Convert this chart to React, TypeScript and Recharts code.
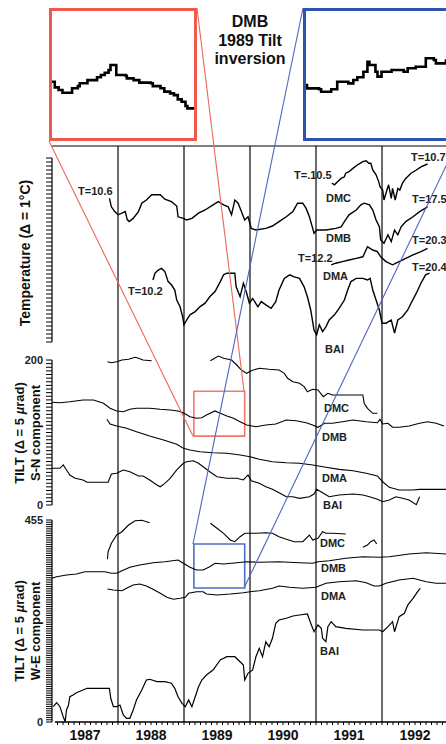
import React from 'react';
import { LineChart, Line, XAxis, YAxis, ReferenceLine, ReferenceArea } from 'recharts';

// ---------- axes / labels ----------
const YEARS = [1987, 1988, 1989, 1990, 1991, 1992];
const YEAR_BOUNDARIES = [1988, 1989, 1990, 1991, 1992];
const X_DOMAIN = [1987, 1993];
const TEMP_DOMAIN = [0, 46];
const SN_DOMAIN = [0, 206];
const WE_DOMAIN = [0, 455];
const SN_LABELED = [0, 200];
const WE_LABELED = [0, 455];

// ---------- temperature (°C, relative offset units) ----------
const tempDMB = [
  [1987.87, 35.9], [1987.9, 33.8], [1987.95, 32.6], [1988.0, 31.8], [1988.06, 32.2], [1988.11, 32.6], [1988.14, 30.6], [1988.17, 30.1],
  [1988.23, 30.9], [1988.31, 32.6], [1988.36, 34.7], [1988.43, 35.5], [1988.51, 36.8], [1988.64, 36.8], [1988.71, 35.7],
  [1988.81, 35.1], [1988.89, 34.0], [1988.91, 31.3], [1988.99, 30.9], [1989.04, 30.5], [1989.12, 30.9], [1989.22, 32.2],
  [1989.32, 33.0], [1989.44, 34.3], [1989.52, 35.1], [1989.6, 34.3], [1989.67, 33.8], [1989.72, 31.8], [1989.77, 35.5],
  [1989.82, 34.7], [1989.87, 32.6], [1989.92, 30.5], [1989.97, 31.3], [1990.02, 28.4], [1990.09, 28.0], [1990.24, 28.4],
  [1990.34, 29.0], [1990.44, 30.1], [1990.55, 31.3], [1990.65, 32.6], [1990.72, 34.7], [1990.8, 34.7], [1990.85, 33.4],
  [1990.9, 31.3], [1990.95, 28.4], [1990.97, 27.2], [1991.01, 28.0], [1991.15, 28.0], [1991.3, 28.4], [1991.38, 28.8],
  [1991.43, 30.1], [1991.5, 31.8], [1991.61, 33.0], [1991.68, 34.3], [1991.73, 34.7], [1991.81, 34.3], [1991.86, 33.0],
  [1991.91, 30.5], [1991.96, 28.8], [1991.98, 25.5], [1992.03, 24.7], [1992.09, 26.8], [1992.14, 25.1], [1992.19, 28.0],
  [1992.24, 26.8], [1992.29, 28.8], [1992.36, 30.1], [1992.47, 31.3], [1992.57, 32.6], [1992.69, 33.8],
];
const tempDMC = [
  [1991.24, 39.7], [1991.28, 39.3], [1991.33, 40.1], [1991.38, 40.9], [1991.43, 41.3], [1991.45, 42.2], [1991.5, 42.6],
  [1991.56, 43.4], [1991.63, 44.3], [1991.71, 45.1], [1991.76, 45.3], [1991.8, 44.7], [1991.83, 44.7], [1991.86, 43.0],
  [1991.91, 41.8], [1991.95, 40.1], [1991.97, 38.8], [1992.01, 38.0], [1992.03, 35.5], [1992.06, 37.2], [1992.1, 39.3],
  [1992.14, 35.9], [1992.16, 38.4], [1992.2, 35.5], [1992.24, 38.4], [1992.27, 38.0], [1992.31, 39.7], [1992.36, 40.9],
  [1992.44, 42.2], [1992.52, 43.0], [1992.59, 43.8], [1992.69, 44.5],
];
const tempDMA = [
  [1991.23, 19.3], [1991.3, 19.7], [1991.4, 20.1], [1991.5, 20.5], [1991.61, 20.9], [1991.71, 21.3], [1991.78, 23.8],
  [1991.82, 23.4], [1991.86, 23.0], [1991.93, 22.6], [1991.98, 21.3], [1992.06, 20.1], [1992.16, 19.3], [1992.26, 20.1],
  [1992.36, 20.9], [1992.47, 21.8], [1992.59, 22.6], [1992.69, 23.4],
];
const tempBAI = [
  [1988.53, 15.5], [1988.56, 17.2], [1988.61, 18.0], [1988.66, 18.4], [1988.71, 17.6], [1988.76, 15.1], [1988.81, 14.3],
  [1988.86, 13.0], [1988.89, 10.5], [1988.94, 8.8], [1988.98, 6.3], [1989.0, 4.3], [1989.04, 5.5], [1989.09, 6.8],
  [1989.17, 7.6], [1989.24, 8.8], [1989.32, 9.7], [1989.39, 11.3], [1989.47, 12.6], [1989.55, 15.1], [1989.6, 16.8],
  [1989.65, 17.2], [1989.77, 17.2], [1989.79, 13.8], [1989.85, 11.3], [1989.9, 14.7], [1989.95, 12.2], [1989.99, 9.7],
  [1990.04, 10.9], [1990.12, 8.8], [1990.17, 10.1], [1990.24, 9.3], [1990.32, 8.4], [1990.39, 10.1], [1990.44, 13.0],
  [1990.52, 15.9], [1990.6, 16.8], [1990.67, 16.3], [1990.75, 15.9], [1990.82, 13.8], [1990.87, 11.3], [1990.92, 8.0],
  [1990.97, 3.0], [1991.01, 1.8], [1991.05, 4.3], [1991.1, 2.6], [1991.15, 3.8], [1991.2, 5.5], [1991.28, 6.8],
  [1991.35, 8.4], [1991.43, 10.5], [1991.48, 13.0], [1991.53, 15.1], [1991.61, 15.9], [1991.71, 15.9], [1991.78, 15.5],
  [1991.82, 15.9], [1991.86, 13.0], [1991.91, 10.5], [1991.96, 8.0], [1992.0, 4.7], [1992.06, 4.7], [1992.14, 5.5],
  [1992.19, 2.2], [1992.24, 5.5], [1992.31, 6.3], [1992.39, 8.0], [1992.44, 9.7], [1992.52, 12.2], [1992.59, 14.7],
  [1992.66, 16.8], [1992.72, 17.2],
];

// ---------- tilt S-N (µrad) ----------
const snDMC1 = [
  [1987.84, 197.7], [1987.9, 196.3], [1987.98, 197.7], [1988.06, 200.0], [1988.16, 201.0], [1988.26, 203.7],
  [1988.31, 202.3], [1988.38, 200.0], [1988.51, 199.0],
];
const snDMC2 = [
  [1989.4, 199.0], [1989.52, 205.5], [1989.6, 202.3], [1989.72, 200.0], [1989.8, 193.1], [1989.87, 186.2], [1989.95, 181.6],
  [1990.02, 185.2], [1990.14, 188.6], [1990.29, 187.2], [1990.44, 186.2], [1990.52, 181.6], [1990.57, 174.8], [1990.65, 170.1],
  [1990.75, 167.9], [1990.82, 163.2], [1990.87, 156.3], [1990.95, 159.6], [1991.03, 158.6], [1991.11, 149.4], [1991.18, 154.1],
  [1991.25, 151.7], [1991.71, 151.7], [1991.73, 140.3], [1991.78, 133.4], [1991.86, 126.5], [1991.93, 126.5],
];
const snDMB = [
  [1987.0, 141.7], [1987.12, 141.1], [1987.27, 142.5], [1987.47, 144.8], [1987.63, 144.8], [1987.78, 140.3], [1987.88, 133.4],
  [1987.98, 129.7], [1988.08, 128.7], [1988.18, 132.0], [1988.28, 133.4], [1988.48, 133.4], [1988.64, 132.0], [1988.79, 131.0],
  [1988.91, 129.7], [1988.99, 127.3], [1989.09, 121.8], [1989.19, 119.6], [1989.27, 120.4], [1989.34, 124.1], [1989.47, 129.7],
  [1989.55, 126.5], [1989.65, 122.8], [1989.75, 119.6], [1989.85, 114.9], [1989.95, 110.3], [1990.09, 108.0], [1990.24, 110.3],
  [1990.39, 111.7], [1990.55, 117.2], [1990.7, 116.3], [1990.85, 113.5], [1990.95, 110.3], [1991.03, 107.2], [1991.13, 112.8],
  [1991.25, 112.8], [1991.4, 114.9], [1991.56, 117.2], [1991.76, 114.9], [1991.93, 113.5], [1991.97, 118.2], [1992.01, 111.7],
  [1992.09, 112.8], [1992.16, 107.2], [1992.26, 107.2], [1992.41, 109.0], [1992.57, 112.8], [1992.69, 114.9], [1992.82, 112.8],
  [1992.94, 109.0],
];
const snDMA = [
  [1987.83, 118.2], [1987.88, 111.7], [1987.98, 109.0], [1988.13, 105.8], [1988.28, 101.1], [1988.48, 95.2], [1988.69, 89.7],
  [1988.89, 83.7], [1988.99, 78.2], [1989.09, 75.9], [1989.24, 73.5], [1989.44, 72.1], [1989.65, 71.3], [1989.85, 69.0],
  [1990.0, 66.6], [1990.14, 63.0], [1990.34, 59.7], [1990.55, 58.3], [1990.75, 57.5], [1990.95, 55.2], [1991.15, 52.0],
  [1991.35, 49.2], [1991.56, 47.3], [1991.76, 43.7], [1991.93, 40.0], [1992.01, 32.1], [1992.11, 24.4], [1992.26, 20.7],
  [1992.47, 20.7], [1992.57, 21.6], [1992.97, 21.6],
];
const snBAI = [
  [1987.0, 50.6], [1987.12, 50.6], [1987.17, 55.2], [1987.22, 48.3], [1987.27, 41.4], [1987.35, 36.8], [1987.47, 34.5],
  [1987.53, 31.3], [1987.85, 31.3], [1987.9, 42.8], [1987.98, 43.7], [1988.08, 48.3], [1988.18, 45.9], [1988.31, 40.0],
  [1988.38, 40.0], [1988.48, 34.5], [1988.59, 27.6], [1988.64, 25.2], [1988.71, 29.9], [1988.79, 36.8], [1988.89, 48.3],
  [1988.99, 57.5], [1989.04, 59.7], [1989.14, 61.1], [1989.22, 57.5], [1989.29, 52.8], [1989.39, 45.9], [1989.5, 39.0],
  [1989.65, 36.8], [1989.8, 36.8], [1989.9, 34.5], [1989.97, 41.4], [1990.02, 33.5], [1990.14, 29.9], [1990.24, 25.2],
  [1990.34, 21.7], [1990.44, 17.0], [1990.55, 11.4], [1990.65, 11.4], [1990.75, 9.2], [1990.9, 11.4], [1990.97, 15.2],
  [1991.01, 21.7], [1991.1, 17.0], [1991.2, 11.4], [1991.35, 13.8], [1991.56, 15.2], [1991.71, 13.8], [1991.81, 11.4],
  [1991.93, 7.9], [1992.01, 4.6], [1992.11, 6.9], [1992.21, 11.4], [1992.31, 9.2], [1992.41, 6.9], [1992.52, 0.5],
  [1992.57, 11.4],
];

// ---------- tilt W-E (µrad) ----------
const weDMC1 = [
  [1987.84, 366.5], [1987.85, 383.6], [1987.9, 402.5], [1987.98, 421.2], [1988.06, 428.6], [1988.16, 443.7],
  [1988.26, 453.4], [1988.36, 454.5], [1988.48, 448.9],
];
const weDMC2 = [
  [1989.4, 447.6], [1989.5, 436.3], [1989.6, 425.0], [1989.7, 410.0], [1989.77, 406.1], [1989.85, 417.4], [1989.92, 425.0],
  [1990.0, 425.0], [1990.09, 425.0], [1990.24, 426.4], [1990.34, 425.0], [1990.44, 417.4], [1990.55, 411.5], [1990.67, 406.1],
  [1990.8, 406.1], [1990.9, 421.2], [1990.95, 410.0], [1991.03, 413.8], [1991.1, 428.6], [1991.15, 425.0], [1991.25, 425.0],
  [1991.45, 423.5],
];
const weDMC3 = [[1991.71, 393.5], [1991.78, 398.7], [1991.83, 406.1], [1991.88, 410.0], [1991.92, 400.9]];
const weDMB = [
  [1987.0, 323.7], [1987.07, 327.3], [1987.22, 331.1], [1987.37, 333.4], [1987.5, 338.6], [1987.63, 338.6], [1987.8, 338.6],
  [1987.9, 334.9], [1987.98, 334.9], [1988.06, 340.8], [1988.18, 348.5], [1988.33, 353.6], [1988.53, 358.8], [1988.71, 361.1],
  [1988.91, 364.9], [1988.99, 357.5], [1989.09, 348.5], [1989.19, 342.4], [1989.29, 342.4], [1989.39, 349.8], [1989.47, 357.5],
  [1989.6, 355.9], [1989.8, 358.8], [1989.95, 361.1], [1990.14, 359.7], [1990.44, 361.1], [1990.75, 358.8], [1990.95, 357.5],
  [1991.03, 361.1], [1991.2, 363.3], [1991.45, 368.7], [1991.71, 372.3], [1991.96, 371.0], [1992.11, 372.3], [1992.41, 378.4],
  [1992.67, 381.3], [1992.97, 378.4],
];
const weDMA = [
  [1987.84, 299.6], [1987.93, 297.3], [1988.06, 295.8], [1988.13, 301.2], [1988.23, 308.6], [1988.33, 310.8], [1988.43, 306.3],
  [1988.53, 298.9], [1988.64, 289.9], [1988.74, 280.9], [1988.84, 276.4], [1988.94, 278.6], [1989.02, 280.9], [1989.07, 289.9],
  [1989.19, 293.5], [1989.29, 293.5], [1989.34, 288.3], [1989.5, 286.1], [1989.7, 288.3], [1989.9, 291.2], [1990.0, 293.5],
  [1990.14, 295.8], [1990.34, 301.2], [1990.44, 306.3], [1990.6, 303.4], [1990.8, 301.2], [1991.0, 303.4], [1991.15, 312.4],
  [1991.35, 316.0], [1991.61, 318.3], [1991.76, 313.8], [1991.88, 306.3], [1991.96, 306.3], [1992.06, 312.4], [1992.26, 319.9],
  [1992.47, 323.7], [1992.67, 316.0], [1992.82, 312.4], [1992.97, 312.4],
];
const weBAI = [
  [1987.02, 34.5], [1987.07, 43.5], [1987.12, 34.5], [1987.17, 11.9], [1987.2, 0.7], [1987.22, 27.0], [1987.25, 38.3],
  [1987.27, 57.0], [1987.32, 60.8], [1987.37, 66.0], [1987.53, 75.9], [1987.73, 75.9], [1987.87, 75.9], [1987.89, 53.4],
  [1987.93, 34.5], [1987.98, 34.5], [1988.03, 38.3], [1988.08, 15.8], [1988.13, 8.3], [1988.18, 8.3], [1988.23, 27.0],
  [1988.28, 49.6], [1988.36, 72.1], [1988.43, 94.6], [1988.48, 96.2], [1988.59, 90.8], [1988.71, 90.8], [1988.81, 87.2],
  [1988.86, 75.9], [1988.91, 57.0], [1988.97, 42.1], [1989.02, 34.5], [1989.07, 49.6], [1989.12, 34.5], [1989.17, 57.0],
  [1989.22, 79.5], [1989.27, 94.6], [1989.34, 105.9], [1989.44, 117.1], [1989.55, 139.7], [1989.65, 147.1], [1989.77, 147.1],
  [1989.85, 135.8], [1989.9, 128.4], [1989.92, 94.6], [1989.97, 109.7], [1990.04, 117.1], [1990.09, 147.1], [1990.14, 166.0],
  [1990.19, 147.1], [1990.24, 180.9], [1990.29, 169.6], [1990.34, 188.5], [1990.39, 222.3], [1990.44, 229.8], [1990.55, 233.6],
  [1990.65, 238.8], [1990.75, 241.0], [1990.87, 243.3], [1990.92, 222.3], [1990.97, 203.4], [1991.03, 218.5], [1991.08, 211.1],
  [1991.1, 188.5], [1991.15, 180.9], [1991.18, 214.7], [1991.23, 225.9], [1991.3, 214.7], [1991.45, 211.1], [1991.71, 207.2],
  [1991.96, 207.2], [1992.01, 203.4], [1992.09, 214.7], [1992.16, 225.9], [1992.19, 203.4], [1992.26, 237.2], [1992.34, 244.8],
  [1992.39, 263.5], [1992.47, 278.6], [1992.54, 293.5], [1992.58, 301.2],
];

// ---------- 1989 DMB zoom insets ----------
const ZOOM_X = [1989.15, 1989.92];
const ZOOM_SN_Y = [95, 157];
const ZOOM_WE_Y = [302, 401];
const insetSN = [
  [1989.16, 122.6], [1989.18, 120.0], [1989.2, 118.8], [1989.22, 117.5], [1989.26, 117.5], [1989.27, 119.6], [1989.3, 120.6],
  [1989.31, 121.9], [1989.35, 123.4], [1989.4, 124.7], [1989.42, 125.8], [1989.44, 126.8], [1989.46, 128.1], [1989.47, 130.4],
  [1989.49, 130.4], [1989.5, 125.8], [1989.55, 125.3], [1989.555, 124.2], [1989.59, 123.4], [1989.62, 122.2], [1989.68, 121.9],
  [1989.69, 120.6], [1989.73, 119.6], [1989.75, 118.0], [1989.78, 117.2], [1989.8, 116.4], [1989.82, 114.4], [1989.84, 113.3],
  [1989.86, 111.3], [1989.87, 110.2], [1989.91, 110.2],
];
const insetWE = [
  [1989.16, 343.7], [1989.17, 341.2], [1989.23, 340.5], [1989.24, 338.7], [1989.28, 338.7], [1989.29, 340.5], [1989.32, 346.1],
  [1989.37, 346.1], [1989.375, 344.9], [1989.4, 347.4], [1989.42, 349.4], [1989.45, 353.6], [1989.47, 361.0], [1989.48, 358.6],
  [1989.51, 353.6], [1989.52, 349.9], [1989.54, 353.6], [1989.59, 354.8], [1989.65, 353.6], [1989.67, 356.1], [1989.71, 357.3],
  [1989.76, 363.6], [1989.8, 362.3], [1989.81, 359.8], [1989.86, 362.8],
];

// connector lines (page pixels): x1, y1, x2, y2, colour
const CONNECTORS: [number, number, number, number, string][] = [
  [197, 8, 244, 391, '#ef6655'],
  [49, 141, 193, 436, '#ef6655'],
  [303, 8, 193, 544, '#5064c0'],
  [458, 141, 244, 588, '#5064c0'],
];

const TEXT_LABELS: [string, number, number][] = [
  ['T=10.6', 78, 191], ['T=10.2', 128, 291], ['T=.10.5', 294, 175], ['DMC', 326, 198], ['DMB', 326, 238],
  ['T=12.2', 298, 258], ['DMA', 323, 276], ['BAI', 325, 349], ['T=10.7', 411, 157], ['T=17.5', 412, 199],
  ['T=20.3', 412, 240], ['T=20.4', 412, 267],
  ['DMC', 324, 408], ['DMB', 322, 437], ['DMA', 322, 478], ['BAI', 323, 505],
  ['DMC', 320, 543], ['DMB', 321, 568], ['DMA', 321, 596], ['BAI', 320, 651],
];

const W = 448;
const H = 744;
const FONT = '"Liberation Sans", Arial, Helvetica, sans-serif';

const toPts = (arr: number[][]) => arr.map(([x, v]) => ({ x, v }));
const range = (a: number, b: number, s: number) => {
  const out: number[] = [];
  for (let v = a; v <= b + 1e-9; v += s) out.push(Math.round(v * 1000) / 1000);
  return out;
};
const monthTicks = (() => {
  const out: number[] = [];
  YEARS.forEach((y) => { for (let m = 0; m < 12; m++) out.push(y + m / 12); });
  out.push(YEARS[YEARS.length - 1] + 1);
  return out;
})();
const yearLabel = (v: number) => {
  const d = v * 2;
  return Math.abs(d - Math.round(d)) < 1e-6 && Math.round(d) % 2 === 1 ? String(Math.floor(v)) : '';
};

const traceLine = (data: number[][], key: string, w = 1.2) => (
  <Line key={key} data={toPts(data)} dataKey="v" type="linear" dot={false} stroke="#000" strokeWidth={w}
    isAnimationActive={false} activeDot={false} />
);

const tickStyle = { fontSize: 11, fontWeight: 'bold', fill: '#222', fontFamily: FONT };

function Panel(props: { top: number; bottom: number; domain: number[]; ticks: number[]; labeled: number[];
  axisTop?: number; children: React.ReactNode }) {
  const { top, bottom, domain, ticks, labeled, axisTop, children } = props;
  return (
    <div style={{ position: 'absolute', left: 0, top: 0 }}>
      <LineChart width={W} height={H} margin={{ top, bottom: H - bottom, left: 0, right: 0 }}>
        <XAxis type="number" dataKey="x" domain={X_DOMAIN} hide />
        <YAxis type="number" domain={domain} ticks={ticks} interval={0} width={52} tickSize={6} tickMargin={3}
          tickFormatter={(v: number) => (labeled.includes(v) ? String(v) : '')}
          axisLine={axisTop === undefined ? { stroke: '#000', strokeWidth: 1.2 } : false}
          tickLine={{ stroke: '#000', strokeWidth: 1 }} tick={tickStyle} />
        {axisTop !== undefined && (
          <ReferenceLine segment={[{ x: X_DOMAIN[0], y: domain[0] }, { x: X_DOMAIN[0], y: axisTop }]} stroke="#000" strokeWidth={1.2} />
        )}
        {children}
      </LineChart>
    </div>
  );
}

function Inset(props: { left: number; color: string; width: number; data: number[][]; yDomain: number[] }) {
  const { left, color, width, data, yDomain } = props;
  const b = 3;
  const innerW = width - 2 * b;
  const innerH = 133 - 2 * b;
  const xd = [ZOOM_X[0] + (b / width) * (ZOOM_X[1] - ZOOM_X[0]), ZOOM_X[0] + ((width - b) / width) * (ZOOM_X[1] - ZOOM_X[0])];
  const yd = [yDomain[0] + (b / 133) * (yDomain[1] - yDomain[0]), yDomain[1] - (b / 133) * (yDomain[1] - yDomain[0])];
  return (
    <div style={{ position: 'absolute', left, top: 8, width, height: 133, boxSizing: 'border-box', border: `${b}px solid ${color}`, background: '#fff' }}>
      <LineChart width={innerW} height={innerH} margin={{ top: 0, bottom: 0, left: 0, right: 0 }}>
        <XAxis type="number" dataKey="x" domain={xd} hide allowDataOverflow />
        <YAxis type="number" domain={yd} hide allowDataOverflow />
        <Line data={toPts(data)} dataKey="v" type="stepAfter" dot={false} stroke="#000" strokeWidth={2.6}
          isAnimationActive={false} activeDot={false} />
      </LineChart>
    </div>
  );
}

export default function App() {
  return (
    <div style={{ position: 'absolute', left: 0, top: 0, width: 446, height: 744, overflow: 'hidden', background: '#fff', fontFamily: FONT }}>
      {/* background: year grid + bottom axis */}
      <div style={{ position: 'absolute', left: 0, top: 0 }}>
        <LineChart width={W} height={H} margin={{ top: 146, bottom: 0, left: 52, right: 0 }}>
          <XAxis type="number" dataKey="x" domain={X_DOMAIN} ticks={monthTicks} interval={0} tickSize={3} tickMargin={5}
            height={22} tickFormatter={yearLabel} axisLine={{ stroke: '#000', strokeWidth: 1.3 }} tickLine={{ stroke: '#000' }}
            tick={{ fontSize: 14, fontWeight: 'bold', fill: '#111', fontFamily: FONT }} />
          <YAxis type="number" domain={[0, 1]} hide />
          <Line data={[{ x: 1987, v: 0 }]} dataKey="v" stroke="none" dot={false} isAnimationActive={false} />
          {YEAR_BOUNDARIES.map((y) => (
            <ReferenceLine key={y} x={y} stroke="#3a3a3a" strokeWidth={1.5} />
          ))}
          <ReferenceLine y={1} stroke="#000" strokeWidth={1} />
        </LineChart>
      </div>

      <Panel top={158} bottom={342} domain={TEMP_DOMAIN} ticks={range(0, 46, 1)} labeled={[]}>
        {traceLine(tempDMB, 'tdmb', 1.4)}
        {traceLine(tempDMC, 'tdmc', 1.4)}
        {traceLine(tempDMA, 'tdma', 1.4)}
        {traceLine(tempBAI, 'tbai', 1.4)}
      </Panel>

      <Panel top={505 - 206 * 0.725} bottom={505} domain={SN_DOMAIN} ticks={range(0, 200, 5)} labeled={SN_LABELED} axisTop={200}>
        <ReferenceArea x1={ZOOM_X[0]} x2={ZOOM_X[1]} y1={ZOOM_SN_Y[0]} y2={ZOOM_SN_Y[1]} fill="none" stroke="#f07a6a" strokeWidth={1.6} fillOpacity={0} />
        {traceLine(snDMC1, 'sdmc1', 1.1)}
        {traceLine(snDMC2, 'sdmc2', 1.1)}
        {traceLine(snDMB, 'sdmb', 1.1)}
        {traceLine(snDMA, 'sdma', 1.1)}
        {traceLine(snBAI, 'sbai', 1.1)}
      </Panel>

      <Panel top={520} bottom={722} domain={WE_DOMAIN} ticks={range(0, 455, 5)} labeled={WE_LABELED}>
        <ReferenceArea x1={ZOOM_X[0]} x2={ZOOM_X[1]} y1={ZOOM_WE_Y[0]} y2={ZOOM_WE_Y[1]} fill="none" stroke="#4d6fc4" strokeWidth={1.6} fillOpacity={0} />
        {traceLine(weDMC1, 'wdmc1', 1.1)}
        {traceLine(weDMC2, 'wdmc2', 1.1)}
        {traceLine(weDMC3, 'wdmc3', 1.1)}
        {traceLine(weDMB, 'wdmb', 1.1)}
        {traceLine(weDMA, 'wdma', 1.1)}
        {traceLine(weBAI, 'wbai', 1.2)}
      </Panel>

      <Inset left={49} color="#ef5a4c" width={148} data={insetSN} yDomain={ZOOM_SN_Y} />
      <Inset left={303} color="#2d52b0" width={155} data={insetWE} yDomain={ZOOM_WE_Y} />

      {/* title of the insets */}
      <div style={{ position: 'absolute', left: 190, top: 13, width: 120, textAlign: 'center', fontSize: 16, lineHeight: '18.5px', fontWeight: 'bold', color: '#111' }}>
        DMB<br />1989 Tilt<br />inversion
      </div>

      {/* trace annotations */}
      {TEXT_LABELS.map(([t, x, y], i) => (
        <div key={i} style={{ position: 'absolute', left: x, top: y - 7, fontSize: 11, lineHeight: '14px', fontWeight: 'bold', color: '#222', whiteSpace: 'nowrap' }}>{t}</div>
      ))}

      {/* rotated axis titles */}
      <div style={{ position: 'absolute', left: 25, top: 253, width: 220, transform: 'translate(-50%, -50%) rotate(-90deg)', textAlign: 'center', fontSize: 14, fontWeight: 'bold', color: '#111', lineHeight: '16px' }}>
        Temperature (Δ = 1°C)
      </div>
      <div style={{ position: 'absolute', left: 28, top: 433, width: 160, transform: 'translate(-50%, -50%) rotate(-90deg)', textAlign: 'center', fontSize: 13, fontWeight: 'bold', color: '#111', lineHeight: '16px' }}>
        TILT (Δ = 5 <i>µ</i>rad)<br />S-N component
      </div>
      <div style={{ position: 'absolute', left: 28, top: 631, width: 160, transform: 'translate(-50%, -50%) rotate(-90deg)', textAlign: 'center', fontSize: 13, fontWeight: 'bold', color: '#111', lineHeight: '16px' }}>
        TILT (Δ = 5 <i>µ</i>rad)<br />W-E component
      </div>

      {/* connector lines on top */}
      <div style={{ position: 'absolute', left: 0, top: 0, pointerEvents: 'none' }}>
        <LineChart width={460} height={H} margin={{ top: 0, bottom: 0, left: 0, right: 0 }}>
          <XAxis type="number" dataKey="x" domain={[0, 460]} hide />
          <YAxis type="number" domain={[0, H]} reversed hide />
          <Line data={[{ x: 0, v: 0 }]} dataKey="v" stroke="none" dot={false} isAnimationActive={false} />
          {CONNECTORS.map((c, i) => (
            <ReferenceLine key={i} segment={[{ x: c[0], y: c[1] }, { x: c[2], y: c[3] }]} stroke={c[4]} strokeWidth={1.1} ifOverflow="visible" />
          ))}
        </LineChart>
      </div>
    </div>
  );
}
